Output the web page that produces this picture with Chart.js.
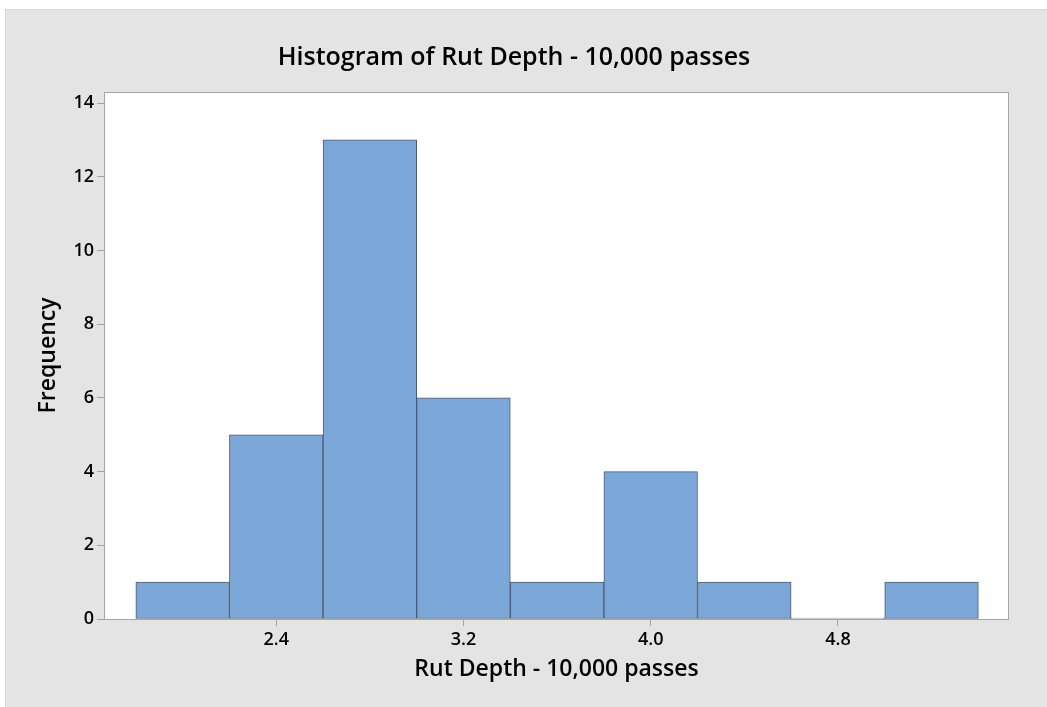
<!DOCTYPE html>
<html>
<head>
<meta charset="utf-8">
<script src="https://cdn.jsdelivr.net/npm/chart.js@4.4.1/dist/chart.umd.min.js"></script>
<style>
    html, body { margin: 0; padding: 0; background: #ffffff; }
    #panel {
        position: absolute;
        left: 5px;
        top: 9px;
        width: 1042px;
        height: 698px;
        background: #e4e4e4;
        box-shadow: inset 1px 1px 0 #d6d6d6;
    }
    #chartBox { position: absolute; left: 0; top: 0; width: 1042px; height: 698px; }
</style>
</head>
<body>
<div id="panel">
    <div id="chartBox"><canvas id="histChart"></canvas></div>
</div>
<script>
// Histogram bins (midpoints, width 0.4) and counts
const binMidpoints = [2.0, 2.4, 2.8, 3.2, 3.6, 4.0, 4.4, 4.8, 5.2];
const frequencies = [1, 5, 13, 6, 1, 4, 1, 0, 1];

// Axis ticks
const xTickValues = [2.4, 3.2, 4.0, 4.8];
const yTickValues = [0, 2, 4, 6, 8, 10, 12, 14];

const FONT = '"Open Sans", "Noto Sans", sans-serif';

// White plot area with a thin grey frame
const plotFrame = {
    id: 'plotFrame',
    beforeDatasetsDraw(chart) {
        const { ctx, chartArea: a } = chart;
        ctx.save();
        ctx.fillStyle = '#ffffff';
        ctx.fillRect(a.left, a.top, a.right - a.left, a.bottom - a.top);
        ctx.restore();
    },
    afterDatasetsDraw(chart) {
        const { ctx, chartArea: a } = chart;
        ctx.save();
        ctx.strokeStyle = '#a6a6a6';
        ctx.lineWidth = 1;
        ctx.strokeRect(a.left + 0.5, a.top + 0.5, a.right - a.left - 1, a.bottom - a.top);
        ctx.restore();
    }
};

document.addEventListener('DOMContentLoaded', () => {
    const ctx = document.getElementById('histChart').getContext('2d');

    new Chart(ctx, {
        type: 'bar',
        data: {
            datasets: [{
                label: 'Frequency',
                data: binMidpoints.map((x, i) => ({ x: x, y: frequencies[i] })),
                backgroundColor: '#7ba7d9',
                borderColor: '#4f5b6c',
                borderWidth: 1,
                borderSkipped: false,
                minBarLength: 1,
                barPercentage: 1,
                categoryPercentage: 1
            }]
        },
        options: {
            responsive: true,
            maintainAspectRatio: false,
            animation: false,
            layout: { padding: { left: 14, right: 38, top: 0, bottom: 0 } },
            plugins: {
                legend: { display: false },
                tooltip: { enabled: false },
                title: {
                    display: true,
                    text: 'Histogram of Rut Depth - 10,000 passes',
                    color: '#000000',
                    font: { family: FONT, size: 25, weight: '600' },
                    padding: { top: 34, bottom: 19 }
                }
            },
            scales: {
                x: {
                    type: 'linear',
                    offset: false,
                    min: 1.664,
                    max: 5.531,
                    afterBuildTicks: axis => { axis.ticks = xTickValues.map(v => ({ value: v })); },
                    afterFit: axis => { axis.height = 88; },
                    grid: { offset: false, drawOnChartArea: false, drawTicks: true, tickLength: 7, tickColor: '#a6a6a6' },
                    border: { display: false },
                    ticks: {
                        color: '#000000',
                        padding: 3,
                        maxRotation: 0,
                        font: { family: FONT, size: 18, weight: '600' },
                        callback: val => val.toFixed(1)
                    },
                    title: {
                        display: true,
                        text: 'Rut Depth - 10,000 passes',
                        color: '#000000',
                        font: { family: FONT, size: 23, weight: '600' },
                        padding: { top: 0, bottom: 24 }
                    }
                },
                y: {
                    min: 0,
                    max: 14.3,
                    afterBuildTicks: axis => { axis.ticks = yTickValues.map(v => ({ value: v })); },
                    afterFit: axis => { axis.width = 85; },
                    grid: { drawOnChartArea: false, drawTicks: true, tickLength: 7, tickColor: '#a6a6a6' },
                    border: { display: false },
                    ticks: {
                        color: '#000000',
                        padding: 3,
                        font: { family: FONT, size: 18, weight: '600' }
                    },
                    title: {
                        display: true,
                        text: 'Frequency',
                        color: '#000000',
                        font: { family: FONT, size: 23, weight: '600' },
                        padding: { top: 16, bottom: 0 }
                    }
                }
            }
        },
        plugins: [plotFrame]
    });
});
</script>
</body>
</html>
